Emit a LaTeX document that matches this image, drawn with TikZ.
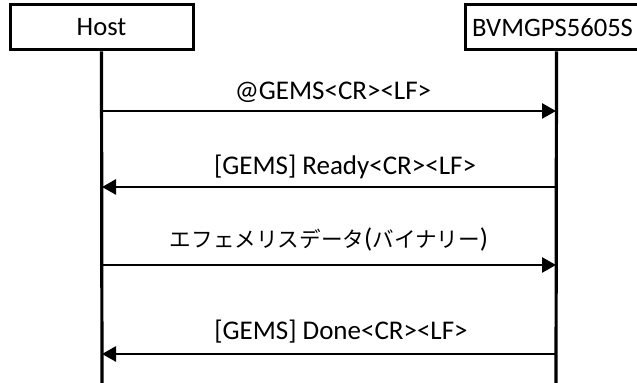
\documentclass[tikz,border=0pt]{standalone}
\usepackage{fontspec}
\setmainfont{Carlito}
\newfontfamily\jpfont{Noto Sans CJK JP}
\usetikzlibrary{positioning,arrows.meta}

\begin{document}
\begin{tikzpicture}[x=0.5pt,y=-0.5pt,
		party/.style={draw, line width=1.5pt, minimum width=91.5pt, minimum height=22.5pt,
			inner sep=0pt, font=\fontsize{13.3}{15}\selectfont},
		lifeline/.style={line width=1.6pt},
		msg/.style={line width=1.35pt, -{Triangle[length=7pt,width=7.5pt]}},
		msglabel/.style={font=\fontsize{13.5}{15}\selectfont}]

		\useasboundingbox (0,0) rectangle (637,383);
		\clip (0,0) rectangle (637,383);

		\node[party] (host) at (101.5,27.5) {Host};
		\node[party] (gps) at (556.5,27.5) {\hspace*{-4pt}BVMGPS5605S};

		\coordinate (hostend) at (102,390);
		\coordinate (gpsend) at (556,390);

		\coordinate (h1) at (102,111);
		\coordinate (g1) at (556,111);
		\coordinate (h2) at (102,187);
		\coordinate (g2) at (556,187);
		\coordinate (h3) at (102,265);
		\coordinate (g3) at (556,265);
		\coordinate (h4) at (102,354);
		\coordinate (g4) at (556,354);

		\draw[lifeline] (host.south) -- (hostend);
		\draw[lifeline] (gps.south) -- (gpsend);

		\draw[msg] (h1) -- node[msglabel, above=0pt, xshift=2pt] {@GEMS<CR><LF>} (g1);
		\draw[msg] (g2) -- node[msglabel, above=0pt, xshift=8pt] {[GEMS] Ready<CR><LF>} (h2);
		\draw[msg] (h3) -- node[msglabel, above=3pt] {{\jpfont\fontsize{10.8}{14}\selectfont エフェメリスデータ}({\jpfont\fontsize{10.8}{14}\selectfont バイナリー})} (g3);
		\draw[msg] (g4) -- node[msglabel, above=1.5pt, xshift=6pt] {[GEMS] Done<CR><LF>} (h4);
\end{tikzpicture}
\end{document}
